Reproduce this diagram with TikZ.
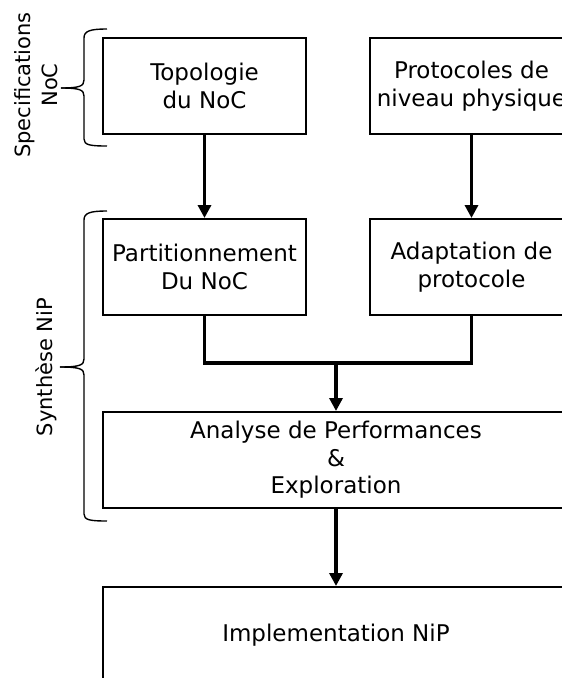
\documentclass[tikz,border=0pt]{standalone}
\usepackage{fontspec}
\setmainfont{DejaVu Sans}
\usetikzlibrary{arrows.meta}
\begin{document}
\begin{tikzpicture}[x=1pt,y=-1pt,
  boxnode/.style={draw,line width=2pt,minimum width=203pt,minimum height=96pt,inner sep=0pt,align=center,font=\fontsize{23}{27.5}\selectfont},
  widebox/.style={boxnode,minimum width=466pt},
  conn/.style={line width=3.3pt,line join=miter},
  arr/.style={conn,-{Triangle[width=13pt,length=13pt]}},
  bracestyle/.style={line width=1.4pt},
  sidelabel/.style={rotate=90,align=center,font=\fontsize{21}{27}\selectfont}]
\useasboundingbox (0,0) rectangle (562,678);
\clip (0,0) rectangle (562,678);
\node[boxnode] (topo) at (204.5,86) {Topologie\\du NoC};
\node[boxnode] (proto) at (471.5,86) {Protocoles de\\niveau physique};
\node[boxnode] (part) at (204.5,267) {Partitionnement\\Du NoC};
\node[boxnode] (adapt) at (471.5,267) {Adaptation de\\protocole};
\node[widebox] (anal) at (336,460) {Analyse de Performances\\\&\\Exploration};
\node[widebox] (impl) at (336,635) {Implementation NiP};
\coordinate (j) at (336,363);
\draw[arr] (topo.south) -- (part.north);
\draw[arr] (proto.south) -- (adapt.north);
\draw[conn] (part.south) |- (j) -| (adapt.south);
\draw[arr] (j) -- (anal.north);
\draw[arr] (anal.south) -- (impl.north);
% braces
\draw[bracestyle] (107,29) .. controls (90,29) and (84,31) .. (84,38) -- (84,80) .. controls (84,86) and (80,88) .. (61,88);
\draw[bracestyle] (61,88) .. controls (80,88) and (84,90) .. (84,96) -- (84,139) .. controls (84,145) and (90,146) .. (107,146);
\draw[bracestyle] (107,211) .. controls (90,211) and (84,213) .. (84,220) -- (84,359) .. controls (84,365) and (80,367) .. (60,367);
\draw[bracestyle] (60,367) .. controls (80,367) and (84,369) .. (84,375) -- (84,514) .. controls (84,520) and (90,521) .. (107,521);
\node[sidelabel] (spec) at (36,85) {Specifications\\NoC};
\node[sidelabel] (synth) at (46,367) {Synthèse NiP};
\end{tikzpicture}
\end{document}
